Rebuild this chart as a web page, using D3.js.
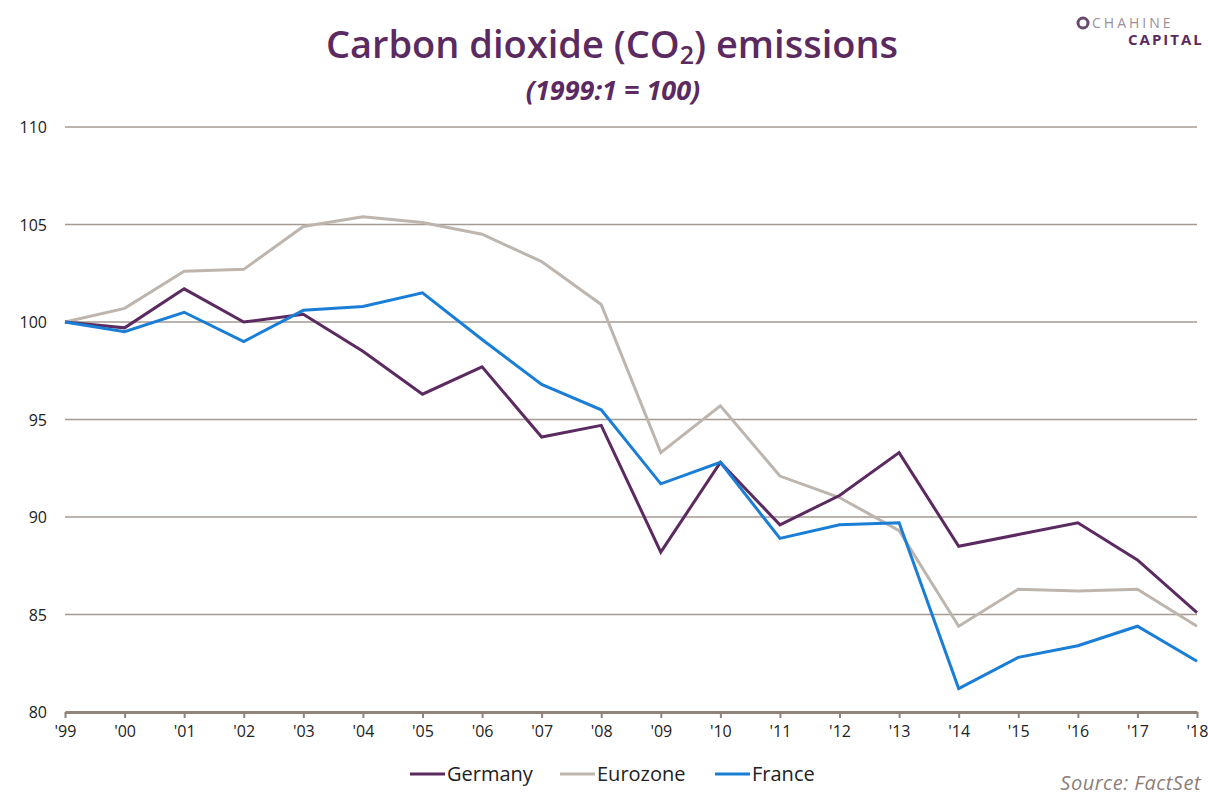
<!DOCTYPE html>
<html>
<head>
<meta charset="utf-8">
<script src="https://cdn.jsdelivr.net/npm/d3@7"></script>
<style>
  body { margin: 0; background: #fff; }
  svg { display: block; }
  text { font-family: "Open Sans", "DejaVu Sans", sans-serif; }
</style>
</head>
<body>
<div id="chart"></div>
<script>
// years on the x axis
const years = ["'99", "'00", "'01", "'02", "'03", "'04", "'05", "'06", "'07", "'08",
               "'09", "'10", "'11", "'12", "'13", "'14", "'15", "'16", "'17", "'18"];

// index values, 1999:1 = 100
const germany  = [100, 99.7, 101.7, 100.0, 100.4, 98.5, 96.3, 97.7, 94.1, 94.7,
                  88.2, 92.8, 89.6, 91.1, 93.3, 88.5, 89.1, 89.7, 87.8, 85.1];
const eurozone = [100, 100.7, 102.6, 102.7, 104.9, 105.4, 105.1, 104.5, 103.1, 100.9,
                  93.3, 95.7, 92.1, 91.0, 89.3, 84.4, 86.3, 86.2, 86.3, 84.4];
const france   = [100, 99.5, 100.5, 99.0, 100.6, 100.8, 101.5, 99.1, 96.8, 95.5,
                  91.7, 92.8, 88.9, 89.6, 89.7, 81.2, 82.8, 83.4, 84.4, 82.6];

const yTicks = [80, 85, 90, 95, 100, 105, 110];

const series = [
    { name: "Germany",  values: germany,  color: "#5b2a60" },
    { name: "Eurozone", values: eurozone, color: "#bdb5ae" },
    { name: "France",   values: france,   color: "#1a7ed6" }
];

const width = 1208, height = 796;
const margin = { top: 127, right: 11, bottom: 84, left: 65 };

const svg = d3.select("#chart")
    .append("svg")
    .attr("width", width)
    .attr("height", height);

const x = d3.scalePoint()
    .domain(years)
    .range([margin.left, width - margin.right]);

const y = d3.scaleLinear()
    .domain([80, 110])
    .range([height - margin.bottom, margin.top]);

// title
const title = svg.append("text")
    .attr("x", 612)
    .attr("y", 58)
    .attr("text-anchor", "middle")
    .attr("fill", "#5b2a60")
    .attr("font-size", 38)
    .attr("font-weight", 600);
title.append("tspan").text("Carbon dioxide (CO");
title.append("tspan").attr("font-size", 25).attr("dy", 6).text("2");
title.append("tspan").attr("dy", -6).text(") emissions");

svg.append("text")
    .attr("x", 613)
    .attr("y", 100)
    .attr("text-anchor", "middle")
    .attr("fill", "#5b2a60")
    .attr("font-size", 27)
    .attr("font-weight", 700)
    .attr("font-style", "italic")
    .text("(1999:1 = 100)");

// logo
const logo = svg.append("g");
logo.append("circle")
    .attr("cx", 1083).attr("cy", 23).attr("r", 5)
    .attr("fill", "none").attr("stroke", "#6a4a6c").attr("stroke-width", 3);
logo.append("text")
    .attr("x", 1092).attr("y", 28)
    .attr("font-size", 14).attr("letter-spacing", 3)
    .attr("fill", "#9a8f98")
    .text("CHAHINE");
logo.append("text")
    .attr("x", 1128).attr("y", 45)
    .attr("font-size", 15).attr("font-weight", 700).attr("letter-spacing", 2)
    .attr("fill", "#5b2a60")
    .text("CAPITAL");

// grid lines
svg.append("g")
    .selectAll("line")
    .data(yTicks.filter(d => d !== 80))
    .enter().append("line")
    .attr("x1", margin.left)
    .attr("x2", width - margin.right)
    .attr("y1", d => y(d))
    .attr("y2", d => y(d))
    .attr("stroke", "#a59a92")
    .attr("stroke-width", 1.5);

// y labels
svg.append("g")
    .selectAll("text")
    .data(yTicks)
    .enter().append("text")
    .attr("x", 47)
    .attr("y", d => y(d) + 6)
    .attr("text-anchor", "end")
    .attr("font-size", 16)
    .attr("fill", "#222")
    .text(d => d);

// x axis
const xAxis = svg.append("g")
    .attr("transform", `translate(0,${y(80)})`)
    .call(d3.axisBottom(x).tickSize(6).tickSizeOuter(0).tickPadding(8));
xAxis.select(".domain")
    .attr("stroke", "#8f837b")
    .attr("stroke-width", 3);
xAxis.selectAll(".tick line")
    .attr("stroke", "#8f837b")
    .attr("stroke-width", 2);
xAxis.selectAll(".tick text")
    .attr("font-family", "\"Open Sans\", \"DejaVu Sans\", sans-serif")
    .attr("font-size", 16)
    .attr("fill", "#222");

// lines
const line = d3.line()
    .x((d, i) => x(years[i]))
    .y(d => y(d));

svg.append("g")
    .selectAll("path")
    .data([series[1], series[0], series[2]])
    .enter().append("path")
    .attr("d", d => line(d.values))
    .attr("fill", "none")
    .attr("stroke", d => d.color)
    .attr("stroke-width", 3)
    .attr("stroke-linejoin", "miter");

// legend
const legendX = [410, 560, 715];
const legend = svg.append("g")
    .selectAll("g")
    .data(series)
    .enter().append("g")
    .attr("transform", (d, i) => `translate(${legendX[i]},774)`);
legend.append("line")
    .attr("x1", 0).attr("x2", 35)
    .attr("stroke", d => d.color)
    .attr("stroke-width", 3);
legend.append("text")
    .attr("x", 37)
    .attr("y", 7)
    .attr("font-size", 20)
    .attr("fill", "#222")
    .text(d => d.name);

// source
svg.append("text")
    .attr("x", 1201)
    .attr("y", 790)
    .attr("text-anchor", "end")
    .attr("font-size", 20)
    .attr("font-style", "italic")
    .attr("fill", "#8a7f7a")
    .attr("letter-spacing", 0.5)
    .text("Source: FactSet");
</script>
</body>
</html>
